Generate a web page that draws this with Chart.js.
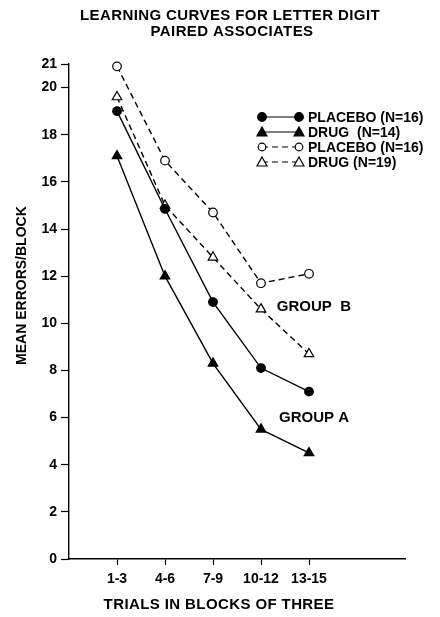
<!DOCTYPE html>
<html>
<head>
<meta charset="utf-8">
<script src="https://cdn.jsdelivr.net/npm/chart.js@4/dist/chart.umd.min.js"></script>
<style>
  html, body { margin: 0; padding: 0; background: #fff; }
  #wrap { position: relative; width: 440px; height: 617px; }
</style>
</head>
<body>
<div id="wrap"><canvas id="lineChart"></canvas></div>
<script>
// Data
var blockLabels = ['1-3', '4-6', '7-9', '10-12', '13-15'];
var placeboA = [19.0, 14.85, 10.9, 8.1, 7.1];
var drugA = [17.1, 12.0, 8.3, 5.5, 4.5];
var placeboB = [20.9, 16.9, 14.7, 11.7, 12.1];
var drugB = [19.6, 15.0, 12.8, 10.6, 8.7];
var yTicks = [0, 2, 4, 6, 8, 10, 12, 14, 16, 18, 20, 21];

var FONT = '"Liberation Sans", Arial, sans-serif';

function toPoints(values) {
    return values.map(function (v, i) { return { x: i + 1, y: v }; });
}

function series(label, values, style, filled, dashed) {
    return {
        label: label,
        data: toPoints(values),
        borderColor: '#000',
        borderWidth: 1.4,
        borderDash: dashed ? [6, 4] : [],
        pointStyle: style,
        pointRadius: style === 'triangle' ? 5.5 : 4.3,
        pointBackgroundColor: filled ? '#000' : '#fff',
        pointBorderColor: '#000',
        pointBorderWidth: 1.2,
        tension: 0,
        clip: false
    };
}

function drawMarker(ctx, style, filled, x, y) {
    ctx.save();
    ctx.setLineDash([]);
    ctx.lineWidth = 1.2;
    ctx.strokeStyle = '#000';
    ctx.fillStyle = filled ? '#000' : '#fff';
    ctx.beginPath();
    if (style === 'triangle') {
        ctx.moveTo(x, y - 5);
        ctx.lineTo(x + 5, y + 4);
        ctx.lineTo(x - 5, y + 4);
        ctx.closePath();
    } else {
        ctx.arc(x, y, filled ? 4.3 : 3.8, 0, Math.PI * 2);
    }
    ctx.fill();
    ctx.stroke();
    ctx.restore();
}

// texts, legend and annotations drawn on the canvas
var decorations = {
    id: 'decorations',
    afterDraw: function (chart) {
        var ctx = chart.ctx;
        var xs = chart.scales.x, ys = chart.scales.y;
        ctx.save();
        ctx.fillStyle = '#000';
        ctx.textAlign = 'center';
        ctx.textBaseline = 'middle';
        ctx.letterSpacing = '0.4px';
        ctx.font = 'bold 15px ' + FONT;
        ctx.fillText('LEARNING CURVES FOR LETTER DIGIT', 230, 16);
        ctx.fillText('PAIRED ASSOCIATES', 232, 32);

        // axis titles
        ctx.font = 'bold 15px ' + FONT;
        ctx.fillText('TRIALS IN BLOCKS OF THREE', xs.getPixelForValue(3.125), ys.bottom + 46);
        ctx.letterSpacing = '0px';
        ctx.save();
        ctx.translate(22, ys.getPixelForValue(11.6));
        ctx.rotate(-Math.PI / 2);
        ctx.font = 'bold 14px ' + FONT;
        ctx.fillText('MEAN ERRORS/BLOCK', 0, 0);
        ctx.restore();

        // group labels
        ctx.textAlign = 'left';
        ctx.font = 'bold 15px ' + FONT;
        ctx.fillText('GROUP  B', xs.getPixelForValue(4.33), ys.getPixelForValue(10.7));
        ctx.fillText('GROUP A', xs.getPixelForValue(4.375), ys.getPixelForValue(6.0));

        // legend
        ctx.font = 'bold 14px ' + FONT;
        chart.data.datasets.forEach(function (ds, i) {
            var y = 117 + i * 15;
            var filled = ds.pointBackgroundColor === '#000';
            ctx.save();
            ctx.strokeStyle = '#000';
            ctx.lineWidth = 1.2;
            ctx.setLineDash(ds.borderDash);
            ctx.beginPath();
            ctx.moveTo(262, y);
            ctx.lineTo(299, y);
            ctx.stroke();
            ctx.restore();
            drawMarker(ctx, ds.pointStyle, filled, 262, y);
            drawMarker(ctx, ds.pointStyle, filled, 299, y);
            ctx.fillStyle = '#000';
            ctx.fillText(ds.label, 308, y + 1);
        });
        ctx.restore();
    }
};

new Chart(document.getElementById('lineChart').getContext('2d'), {
    type: 'line',
    data: {
        datasets: [
            series('PLACEBO (N=16)', placeboA, 'circle', true, false),
            series('DRUG  (N=14)', drugA, 'triangle', true, false),
            series('PLACEBO (N=16)', placeboB, 'circle', false, true),
            series('DRUG (N=19)', drugB, 'triangle', false, true)
        ]
    },
    options: {
        responsive: true,
        maintainAspectRatio: false,
        animation: false,
        layout: { padding: { top: 64, right: 35, left: 0, bottom: 0 } },
        plugins: {
            legend: { display: false },
            title: { display: false },
            tooltip: { enabled: false }
        },
        scales: {
            x: {
                type: 'linear',
                min: 0,
                max: 7,
                afterBuildTicks: function (scale) {
                    scale.ticks = blockLabels.map(function (l, i) { return { value: i + 1 }; });
                },
                afterFit: function (scale) { scale.height = 58; },
                ticks: {
                    color: '#000',
                    padding: 6,
                    maxRotation: 0,
                    autoSkip: false,
                    font: { family: FONT, size: 14, weight: 'bold' },
                    callback: function (v) { return blockLabels[v - 1]; }
                },
                grid: { drawOnChartArea: false, tickLength: 6, color: '#000', tickWidth: 1.2 },
                border: { color: '#000', width: 1.4 }
            },
            y: {
                min: 0,
                max: 21,
                afterBuildTicks: function (scale) {
                    scale.ticks = yTicks.map(function (v) { return { value: v }; });
                },
                afterFit: function (scale) { scale.width = 69; },
                ticks: {
                    color: '#000',
                    padding: 4,
                    autoSkip: false,
                    font: { family: FONT, size: 14, weight: 'bold' }
                },
                grid: { drawOnChartArea: false, tickLength: 8, color: '#000', tickWidth: 1.2 },
                border: { color: '#000', width: 1.4 }
            }
        }
    },
    plugins: [decorations]
});
</script>
</body>
</html>
